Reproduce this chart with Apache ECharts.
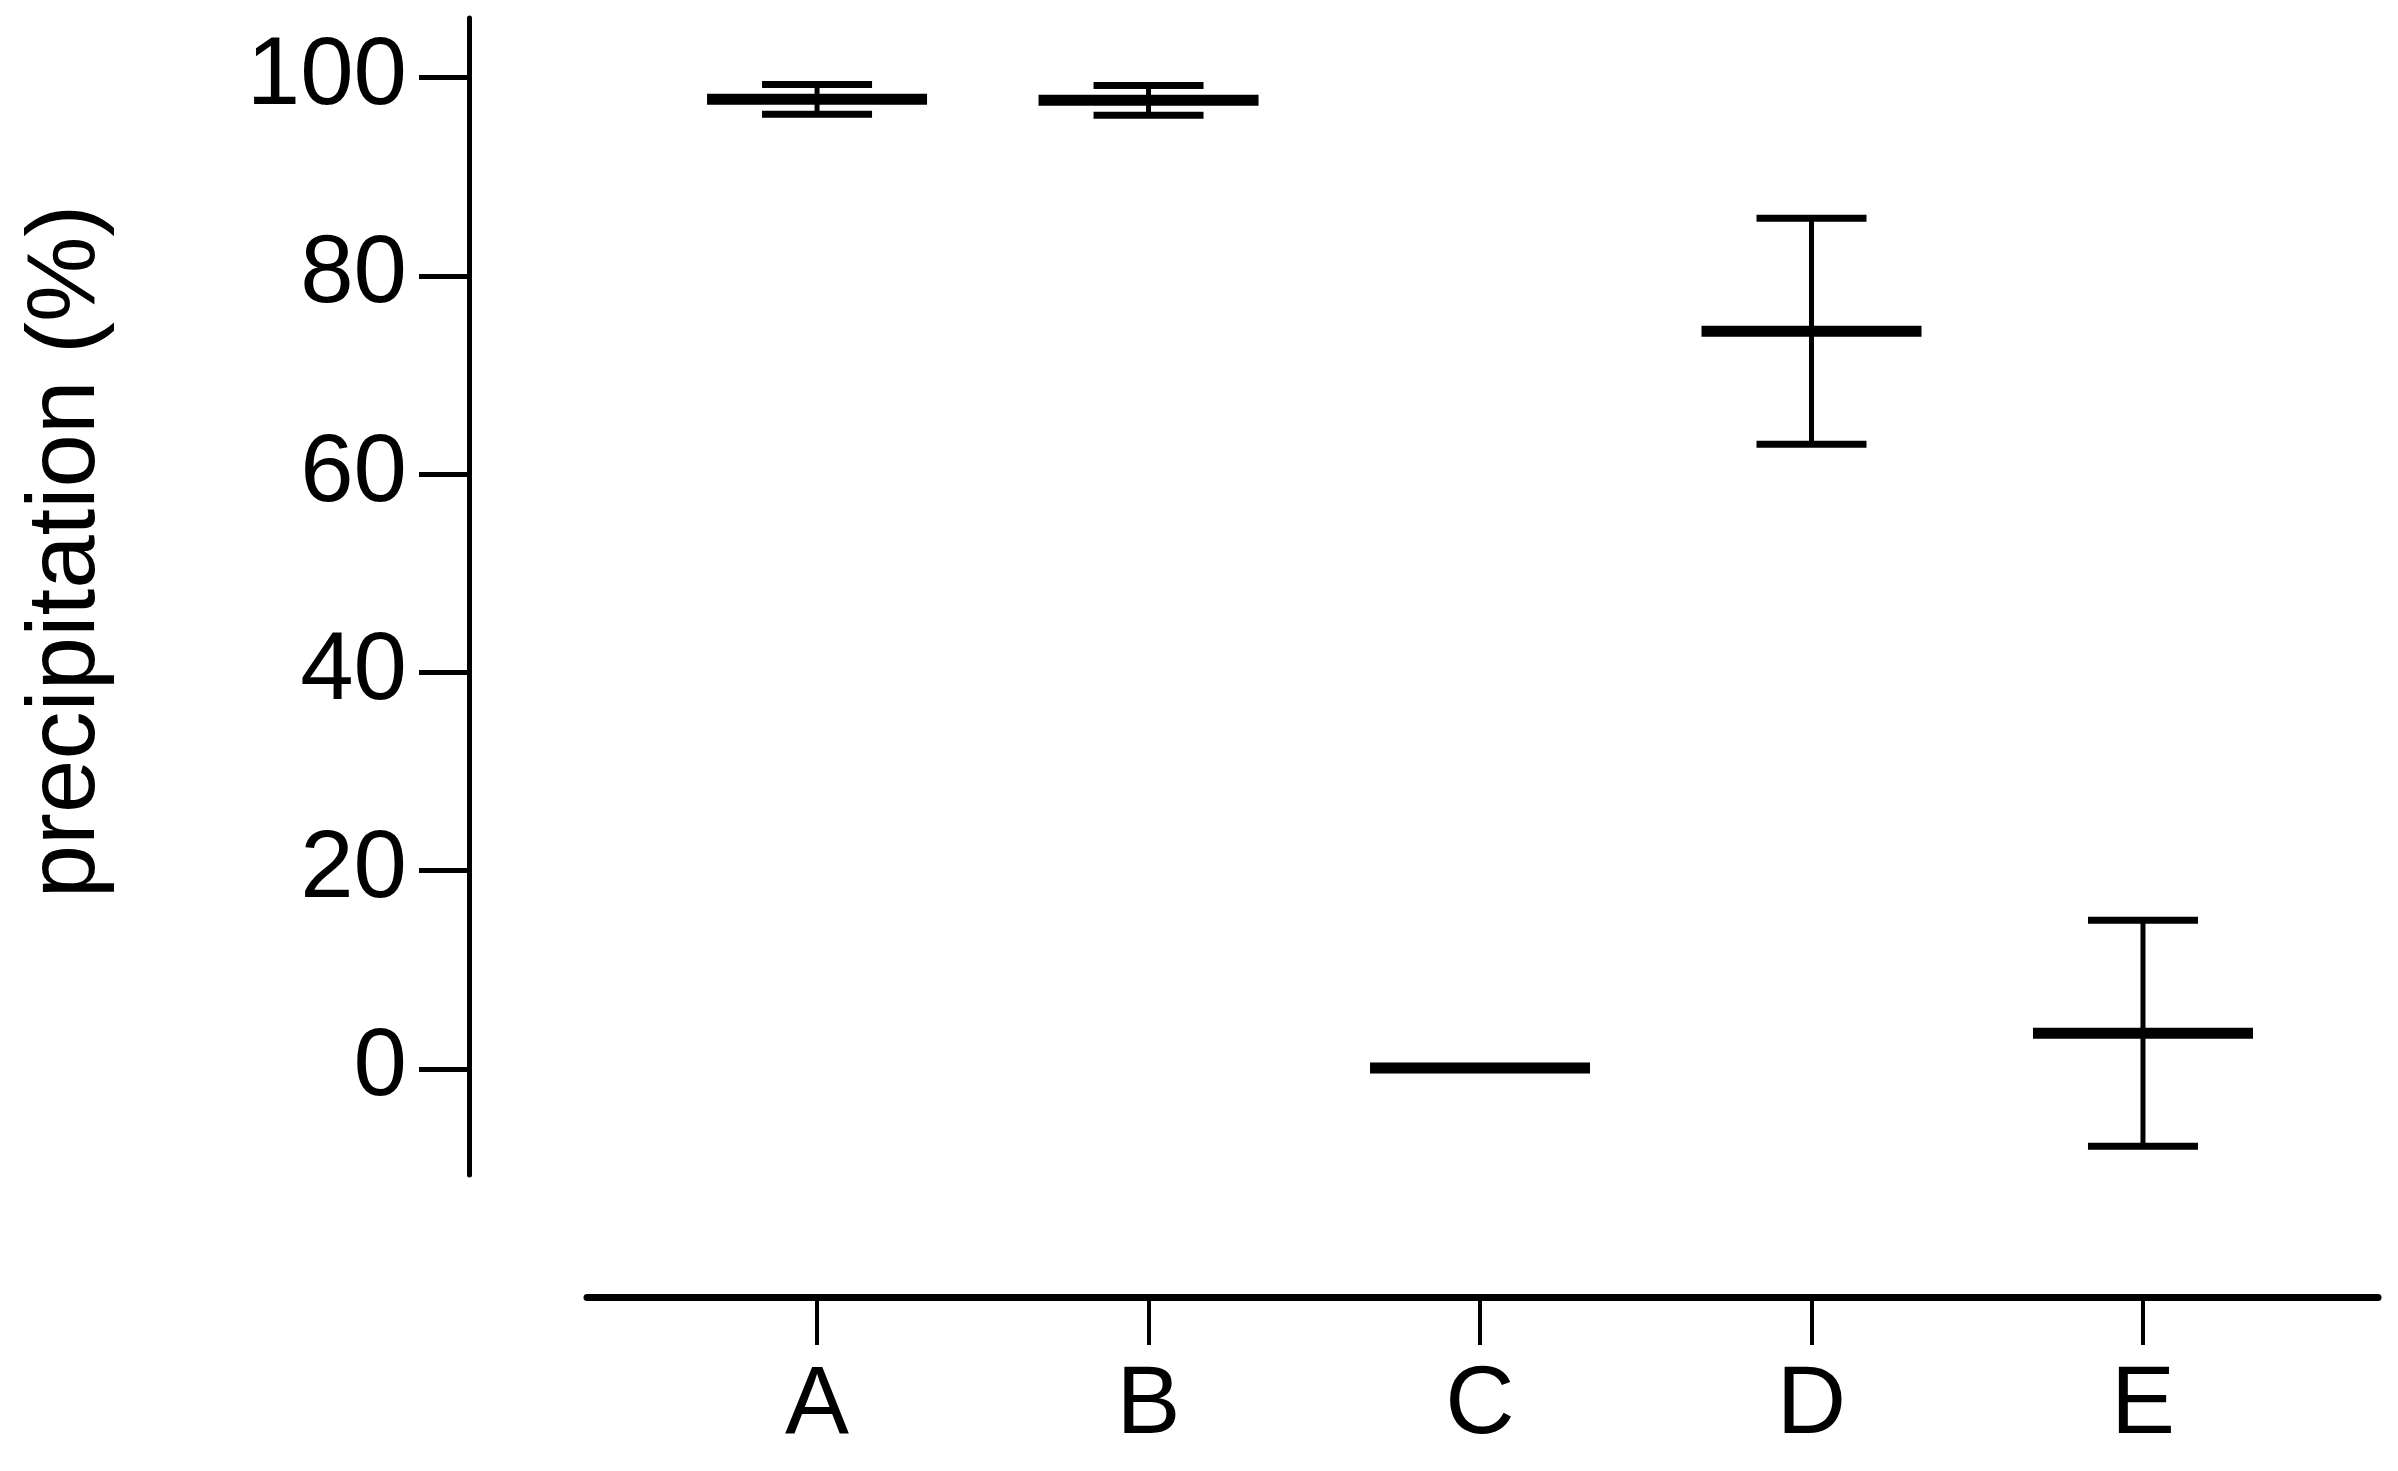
<!DOCTYPE html>
<html>
<head>
<meta charset="utf-8">
<script src="https://cdn.jsdelivr.net/npm/echarts@6/dist/echarts.min.js"></script>
<style>
html,body{margin:0;padding:0;background:#fff;}
#main{width:2398px;height:1471px;}
</style>
</head>
<body>
<div id="main"></div>
<script>
// groups along x, mean and sd
var groups = ['A', 'B', 'C', 'D', 'E'];
var groupPos = [1, 2, 3, 4, 5];
var means = [97.8, 97.7, 0.1, 74.4, 3.6];
var errs = [1.5, 1.5, 0, 11.4, 11.4];
var yTicks = [0, 20, 40, 60, 80, 100];

var dom = document.getElementById('main');
var myChart = echarts.init(dom);

var seriesData = [];
for (var i = 0; i < groups.length; i++) {
    seriesData.push([groupPos[i], means[i], errs[i]]);
}

function renderItem(params, api) {
    var x = api.value(0), m = api.value(1), e = api.value(2);
    var c = api.coord([x, m]);
    var kids = [];
    var meanHalf = 110, capHalf = 55;
    if (e > 0) {
        var hi = api.coord([x, m + e]);
        var lo = api.coord([x, m - e]);
        kids.push({type: 'line', shape: {x1: c[0], y1: hi[1], x2: c[0], y2: lo[1]},
            style: {stroke: '#000', lineWidth: 5}});
        kids.push({type: 'line', shape: {x1: c[0] - capHalf, y1: hi[1], x2: c[0] + capHalf, y2: hi[1]},
            style: {stroke: '#000', lineWidth: 7}});
        kids.push({type: 'line', shape: {x1: c[0] - capHalf, y1: lo[1], x2: c[0] + capHalf, y2: lo[1]},
            style: {stroke: '#000', lineWidth: 7}});
    }
    kids.push({type: 'line', shape: {x1: c[0] - meanHalf, y1: c[1], x2: c[0] + meanHalf, y2: c[1]},
        style: {stroke: '#000', lineWidth: 11}});
    return {type: 'group', children: kids};
}

var font = 'Liberation Sans, Arial, sans-serif';

var option = {
    animation: false,
    backgroundColor: '#fff',
    grid: {left: 587, right: 20, top: 18, bottom: 296},
    xAxis: {
        type: 'value',
        min: 0.306,
        max: 5.709,
        offset: 122,
        splitLine: {show: false},
        axisLine: {show: true, onZero: false, lineStyle: {color: '#000', width: 7}},
        axisTick: {show: true, length: 48, lineStyle: {color: '#000', width: 4}, customValues: groupPos},
        axisLabel: {
            customValues: groupPos,
            margin: 62,
            color: '#000',
            fontSize: 96,
            fontFamily: font,
            formatter: function (v) { return groups[Math.round(v) - 1] || ''; }
        }
    },
    yAxis: {
        type: 'value',
        min: -10.7,
        max: 106,
        offset: 118,
        name: 'precipitation (%)',
        nameLocation: 'middle',
        nameGap: 353,
        nameTextStyle: {color: '#000', fontSize: 96, fontFamily: font, padding: [0, 0, 0, 90]},
        splitLine: {show: false},
        axisLine: {show: true, onZero: false, lineStyle: {color: '#000', width: 5}},
        axisTick: {show: true, length: 50, lineStyle: {color: '#000', width: 5}, customValues: yTicks},
        axisLabel: {
            customValues: yTicks,
            margin: 62,
            color: '#000',
            fontSize: 96,
            fontFamily: font
        }
    },
    series: [{
        type: 'custom',
        renderItem: renderItem,
        data: seriesData,
        clip: false
    }]
};

myChart.setOption(option, true);
</script>
</body>
</html>
